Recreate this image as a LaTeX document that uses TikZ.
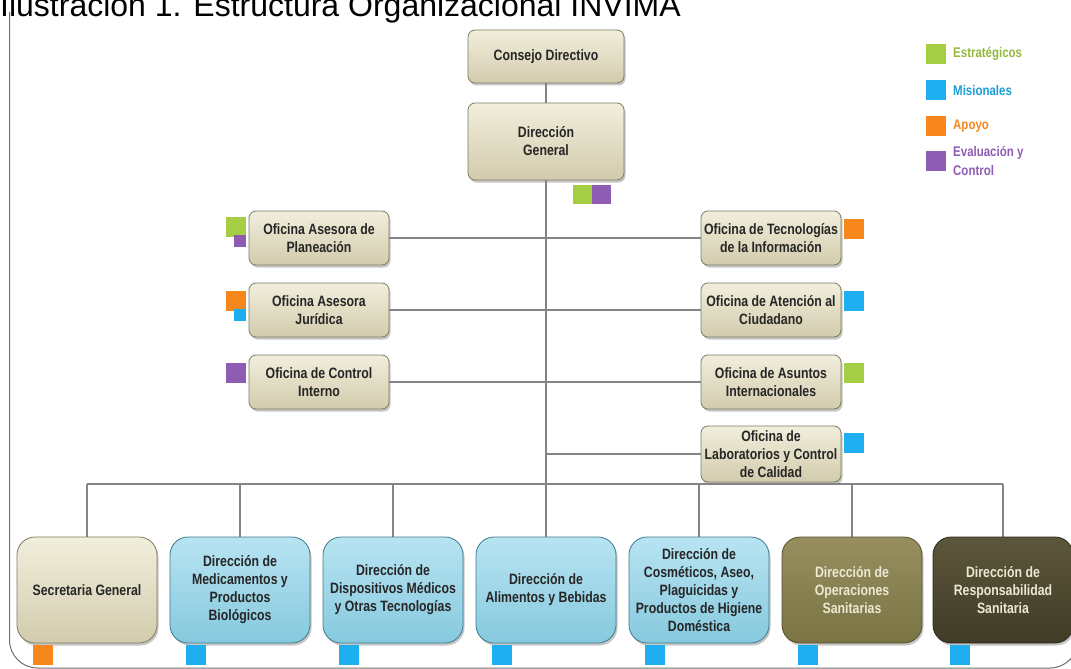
\documentclass[tikz,border=0pt]{standalone}
\usepackage{fontspec}
\setmainfont{Liberation Sans}
\newfontfamily\narrowfont[FakeStretch=0.82]{Liberation Sans}
\usetikzlibrary{shadows,backgrounds}

\definecolor{beigetop}{HTML}{F1EEDC}
\definecolor{beigebot}{HTML}{D2CCAD}
\definecolor{beigeedge}{HTML}{7E7A62}
\definecolor{bluetop}{HTML}{B8E4F2}
\definecolor{bluebot}{HTML}{86C9DE}
\definecolor{blueedge}{HTML}{3C7A8E}
\definecolor{olivetop}{HTML}{978F60}
\definecolor{olivebot}{HTML}{7A7344}
\definecolor{oliveedge}{HTML}{55502F}
\definecolor{darktop}{HTML}{5C563B}
\definecolor{darkbot}{HTML}{413C27}
\definecolor{darkedge}{HTML}{2A2718}
\definecolor{textdark}{HTML}{262626}
\definecolor{textlight}{HTML}{ECE8D2}
\definecolor{linegray}{HTML}{858585}
\definecolor{framegray}{HTML}{6E6E6E}
\definecolor{cgreen}{HTML}{A5CE45}
\definecolor{cblue}{HTML}{1DAFF0}
\definecolor{corange}{HTML}{F7861C}
\definecolor{cpurple}{HTML}{8F5CB4}

\tikzset{
  unit/.style={rounded corners=7pt, align=center, inner sep=2pt,
    font=\narrowfont\bfseries\fontsize{15}{18}\selectfont, text=textdark,
    line width=0.8pt,
    drop shadow={opacity=0.45, shadow xshift=1.5pt, shadow yshift=-2.5pt}},
  beige/.style={unit, draw=beigeedge, top color=beigetop, bottom color=beigebot},
  office/.style={beige, minimum width=140pt, minimum height=54pt},
  direction/.style={unit, rounded corners=18pt, minimum width=140pt, minimum height=106pt},
  dirbeige/.style={direction, draw=beigeedge, top color=beigetop, bottom color=beigebot},
  dirblue/.style={direction, draw=blueedge, top color=bluetop, bottom color=bluebot},
  dirolive/.style={direction, draw=oliveedge, top color=olivetop, bottom color=olivebot, text=textlight},
  dirdark/.style={direction, draw=darkedge, top color=darktop, bottom color=darkbot, text=textlight},
  tag/.style={fill=#1, draw=none, minimum size=20pt, inner sep=0pt},
  smalltag/.style={fill=#1, draw=none, minimum size=12pt, inner sep=0pt},
  legendtext/.style={anchor=west, inner sep=0pt, text=#1,
    font=\narrowfont\bfseries\fontsize{14}{19}\selectfont, align=left},
  link/.style={draw=linegray, line width=2pt}
}

\begin{document}
\begin{tikzpicture}[x=1pt,y=-1pt]
\path[use as bounding box] (0,0) rectangle (1071,669);
\clip (0,0) rectangle (1071,669);

% caption, cut by the top edge
\node[anchor=base west, inner sep=0pt, font=\fontsize{32}{36}\selectfont] (caption) at (0,17)
  {Ilustración 1. Estructura Organizacional INVIMA};

% outer frame
\draw[framegray, line width=1pt] (9.5,12) -- (9.5,640) arc[start angle=180, end angle=90, radius=28]
  -- (1050,668) arc[start angle=90, end angle=0, radius=28];

% top of the structure
\node[beige, minimum width=156pt, minimum height=53pt] (cd) at (546,56.5) {Consejo Directivo};
\node[beige, minimum width=156pt, minimum height=77pt] (dg) at (546,141.5) {Dirección\\General};
\node[tag=cgreen, minimum size=19pt] (dgA) at (582,194.5) {};
\node[tag=cpurple, minimum size=19pt] (dgB) at (601.5,194.5) {};

% advisory offices, left
\node[office] (ap) at (319,238) {Oficina Asesora de\\Planeación};
\node[office] (aj) at (319,310) {Oficina Asesora\\Jurídica};
\node[office] (ci) at (319,382) {Oficina de Control\\Interno};
\node[tag=cgreen] (apA) at (235.5,227) {};
\node[smalltag=cpurple] (apB) at (240,241) {};
\node[tag=corange] (ajA) at (235.5,301) {};
\node[smalltag=cblue] (ajB) at (240,315) {};
\node[tag=cpurple] (ciA) at (235.5,373) {};

% offices, right
\node[office] (ti) at (771,238) {Oficina de Tecnologías\\de la Información};
\node[office] (ac) at (771,310) {Oficina de Atención al\\Ciudadano};
\node[office] (ai) at (771,382) {Oficina de Asuntos\\Internacionales};
\node[office, minimum height=56pt] (lab) at (771,454) {Oficina de\\Laboratorios y Control\\de Calidad};
\node[tag=corange] (tiA) at (854,229) {};
\node[tag=cblue] (acA) at (854,301) {};
\node[tag=cgreen] (aiA) at (854,373) {};
\node[tag=cblue] (labA) at (854,443) {};

% directions
\node[dirbeige] (sg) at (87,590) {Secretaria General};
\node[dirblue] (dm) at (240,590) {Dirección de\\Medicamentos y\\Productos\\Biológicos};
\node[dirblue] (dd) at (393,590) {Dirección de\\Dispositivos Médicos\\y Otras Tecnologías};
\node[dirblue] (da) at (546,590) {Dirección de\\Alimentos y Bebidas};
\node[dirblue] (dc) at (699,590) {Dirección de\\Cosméticos, Aseo,\\Plaguicidas y\\Productos de Higiene\\Doméstica};
\node[dirolive] (do) at (852,590) {Dirección de\\Operaciones\\Sanitarias};
\node[dirdark] (dr) at (1003,590) {Dirección de\\Responsabilidad\\Sanitaria};
\node[tag=corange] (sgA) at (43,655) {};
\node[tag=cblue] (dmA) at (196,655) {};
\node[tag=cblue] (ddA) at (349,655) {};
\node[tag=cblue] (daA) at (502,655) {};
\node[tag=cblue] (dcA) at (655,655) {};
\node[tag=cblue] (doA) at (808,655) {};
\node[tag=cblue] (drA) at (960,655) {};

% legend
\node[tag=cgreen] (lg1) at (936,54) {};
\node[tag=cblue] (lg2) at (936,90) {};
\node[tag=corange] (lg3) at (936,126) {};
\node[tag=cpurple] (lg4) at (936,160.5) {};
\node[legendtext=cgreen!90!black] (lt1) at (953,54) {Estratégicos};
\node[legendtext=cblue!90!black] (lt2) at (953,90) {Misionales};
\node[legendtext=corange] (lt3) at (953,126) {Apoyo};
\node[legendtext=cpurple] (lt4) at (953,160.5) {Evaluación y\\Control};

% connectors
\coordinate (bus) at (546,484);
\coordinate (busL) at (87,484);
\coordinate (busR) at (1003,484);
\begin{scope}[on background layer]
  \draw[link] (cd.south) -- (dg.north);
  \draw[link] (dg.south) -- (bus);
  \draw[link] (ap.east) -- (ti.west);
  \draw[link] (aj.east) -- (ac.west);
  \draw[link] (ci.east) -- (ai.west);
  \draw[link] (lab.west) -- (lab.west -| bus);
  \draw[link] (busL) -- (busR);
  \foreach \d in {sg,dm,dd,da,dc,do,dr}
    \draw[link] (\d.north |- bus) -- (\d.north);
\end{scope}
\end{tikzpicture}
\end{document}
